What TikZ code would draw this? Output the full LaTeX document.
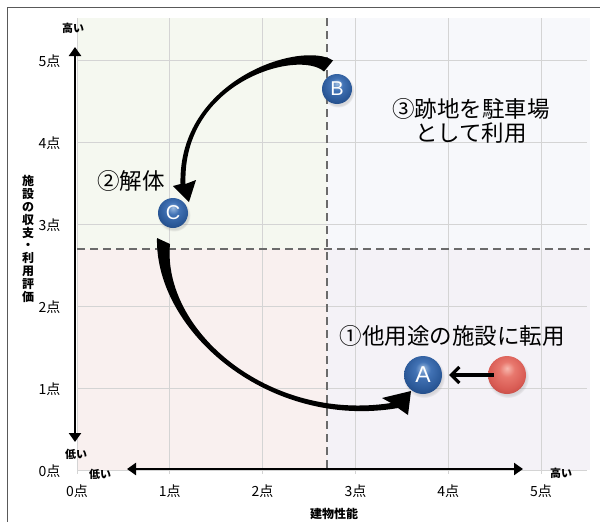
\documentclass[tikz,border=0pt]{standalone}
\usepackage{fontspec}
\setmainfont{Noto Sans CJK JP}
\newfontfamily\latinsans{Liberation Sans}
\usetikzlibrary{arrows.meta,shadows}
\definecolor{qTL}{HTML}{F5F8F0}
\definecolor{qTR}{HTML}{F7F8FB}
\definecolor{qBL}{HTML}{F9F0EF}
\definecolor{qBR}{HTML}{F4F2F7}
\pgfdeclareradialshading{blueglow}{\pgfpoint{0bp}{9bp}}{%
  rgb(0bp)=(0.62,0.74,0.88);rgb(10bp)=(0.26,0.45,0.71);rgb(24bp)=(0.17,0.35,0.60);
  rgb(38bp)=(0.10,0.24,0.45);rgb(60bp)=(0.08,0.20,0.40)}
\pgfdeclareradialshading{redglow}{\pgfpoint{0bp}{9bp}}{%
  rgb(0bp)=(0.97,0.72,0.68);rgb(10bp)=(0.91,0.47,0.43);rgb(24bp)=(0.85,0.36,0.33);
  rgb(38bp)=(0.70,0.24,0.22);rgb(60bp)=(0.62,0.20,0.18)}
\begin{document}
\begin{tikzpicture}[x=1pt,y=-1pt,
  gridline/.style={draw=black!17,line width=0.8pt},
  quaddash/.style={draw=black!58,line width=1.8pt,dash pattern=on 8pt off 5pt},
  axisline/.style={line width=2.6pt},
  ticklabel/.style={font=\fontsize{14}{14}\selectfont},
  smalllabel/.style={font=\fontsize{11}{11}\selectfont\bfseries},
  biglabel/.style={font=\fontsize{22.5}{23.5}\selectfont},
  ballnode/.style={circle,text=white,inner sep=0pt,
    circular drop shadow={shadow xshift=1pt,shadow yshift=-2pt,opacity=0.25},
    font=\latinsans\fontsize{20}{20}\selectfont},
  blueball/.style={ballnode,shading=blueglow},
  redball/.style={ballnode,shading=redglow},
  curvearrow/.style={fill=black},
  ]
\useasboundingbox (0,0) rectangle (600,522);
% frame
\draw[black!65,line width=1.5pt] (7.5,530) -- (7.5,7.5) -- (610,7.5);
% quadrants
\fill[qTL] (77,18) rectangle (327,249);
\fill[qTR] (327,18) rectangle (590,249);
\fill[qBL] (77,249) rectangle (327,470);
\fill[qBR] (327,249) rectangle (590,470);
% grid
\foreach \i in {0,...,5}{
  \draw[gridline] ({77+92.8*\i},18) -- ({77+92.8*\i},474);
  \draw[gridline] (77,{470-82*\i}) -- (587,{470-82*\i});
}
\draw[quaddash] (327,18) -- (327,470);
\draw[quaddash] (77,249) -- (590,249);
% axes
\coordinate (ytop) at (75,47);
\coordinate (ybot) at (75,442);
\coordinate (xleft) at (127,469);
\coordinate (xright) at (523,469);
\draw[axisline,{Triangle[width=12pt,length=9pt]}-{Triangle[width=12pt,length=9pt]}] (ytop) -- (ybot);
\draw[axisline,{Triangle[width=12pt,length=9pt]}-{Triangle[width=12pt,length=9pt]}] (xleft) -- (xright);
% tick labels
\foreach \i in {0,...,5}{
  \node[ticklabel,anchor=east] (yt\i) at (64,{471-82*\i}) {\i{}点};
  \node[ticklabel] (xt\i) at ({77+92.8*\i},491) {\i{}点};
}
\node[smalllabel] (yhigh) at (73,28) {高い};
\node[smalllabel] (ylow) at (76,454) {低い};
\node[smalllabel] (xlow) at (100,474) {低い};
\node[smalllabel] (xhigh) at (561,473) {高い};
\node[font=\fontsize{12}{12}\selectfont\bfseries] (xtitle) at (334,514) {建物性能};
\node[font=\fontsize{12}{12.8}\selectfont\bfseries,align=center] (ytitle) at (28,239)
  {施\\設\\の\\収\\支\\・\\利\\用\\評\\価};
% curved arrows
\fill[curvearrow] (333,60.5) .. controls (302,40) and (178,79) .. (180.5,184)
  -- (173,186) -- (189,202) -- (196,180) -- (185.5,184)
  .. controls (182,81) and (299,49) .. (324,71.5) -- cycle;
\fill[curvearrow] (157,238) .. controls (155,332) and (270,430) .. (398,408)
  -- (408,415) -- (411,391) -- (382,398) -- (391,403)
  .. controls (268,422) and (162,330) .. (170,244) -- cycle;
% balls
\node[blueball,minimum size=30pt] (B) at (337,89) {B};
\node[blueball,minimum size=30pt] (C) at (173,213) {C};
\node[blueball,minimum size=38pt,font=\latinsans\fontsize{23}{23}\selectfont] (A) at (423,375) {A};
\node[redball,minimum size=38pt] (R) at (507,375) {};
\draw[line width=3.2pt,-{Straight Barb[length=8pt,width=16pt]},shorten >=7pt,shorten <=-6pt] (R.west) -- (A.east);
% texts
\node[biglabel,align=center] (t3) at (471,121) {③跡地を駐車場\\として利用};
\node[biglabel] (t1) at (452,336) {①他用途の施設に転用};
\node[biglabel] (t2) at (131,181) {②解体};
\end{tikzpicture}
\end{document}
